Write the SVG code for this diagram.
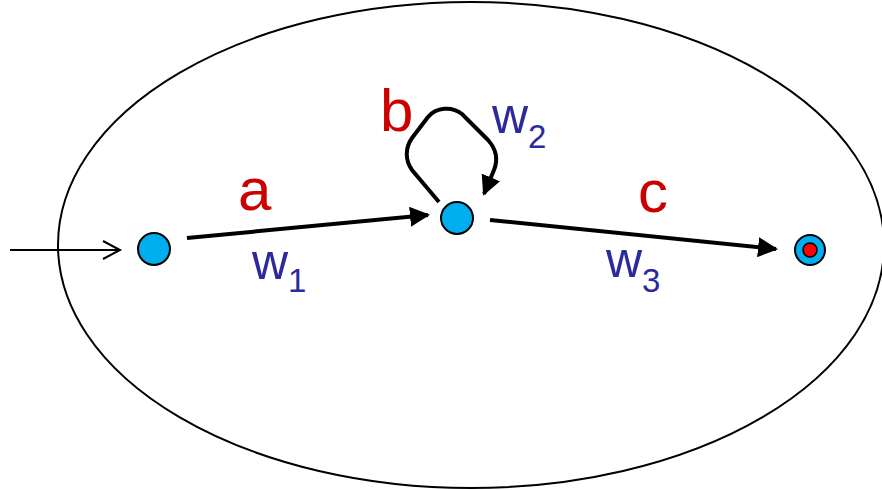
<svg xmlns="http://www.w3.org/2000/svg" width="882" height="490" viewBox="0 0 882 490">
<defs>
<style>
.lbl{font-family:"Liberation Sans",Arial,sans-serif;fill:#cc0000;font-size:60px}
.w{font-family:"Liberation Sans",Arial,sans-serif;fill:#2b2b99;font-size:50px}
.sub{font-size:33px}
.node{fill:#00aeef;stroke:#000;stroke-width:2}
.edge{fill:none;stroke:#000;stroke-width:4}
</style>
<marker id="ah" viewBox="0 0 10 10" refX="9" refY="5" markerWidth="5" markerHeight="5" markerUnits="strokeWidth" orient="auto">
<path d="M0,0 L10,5 L0,10 Z" fill="#000"/>
</marker>
</defs>
<ellipse cx="471" cy="245" rx="413" ry="243" fill="none" stroke="#000" stroke-width="2"/>
<g id="connectors">
<path d="M10,250 H118" fill="none" stroke="#000" stroke-width="2"/>
<path d="M103,241 L120,250 L103,259" fill="none" stroke="#000" stroke-width="2"/>
<path class="edge" d="M187,238 L428,215" marker-end="url(#ah)"/>
<path class="edge" d="M490,220 L776,249" marker-end="url(#ah)"/>
<path class="edge" d="M439,202 L412,170 C405,160 405,148 412,138 L428,117 C436,107 452,106 462,114 L488,140 C497,150 498,160 494,170 L484,194" marker-end="url(#ah)"/>
</g>
<g id="n1"><circle class="node" cx="154" cy="249" r="16"/></g>
<g id="n2"><circle class="node" cx="457" cy="218" r="16"/></g>
<g id="n3"><circle class="node" cx="810" cy="250" r="15"/><circle cx="810" cy="250" r="7" fill="#ff0000" stroke="#000" stroke-width="1.5"/></g>
<g id="labels">
<text class="lbl" x="238" y="210">a</text>
<text class="w" x="252" y="279">w<tspan class="sub" dy="13">1</tspan></text>
<text class="lbl" x="380" y="131">b</text>
<text class="w" x="492" y="133">w<tspan class="sub" dy="15">2</tspan></text>
<text class="lbl" x="638" y="212">c</text>
<text class="w" x="606" y="277">w<tspan class="sub" dy="15">3</tspan></text>
</g>
</svg>
